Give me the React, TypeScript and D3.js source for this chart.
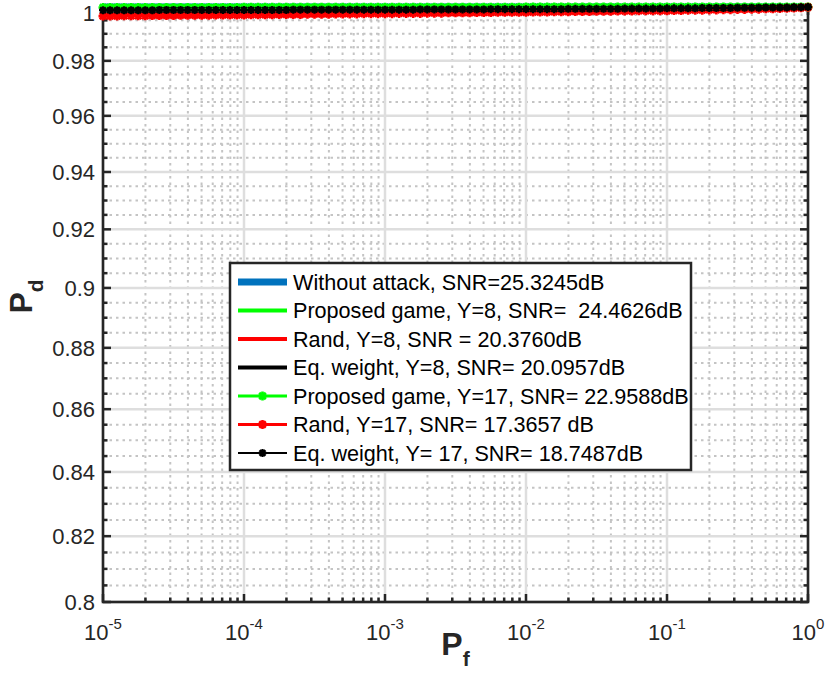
import React from "react";
import * as d3 from "d3";

// ---------- data ----------
// Pf sample exponents for the line-only curves (half decades)
const PF_LINE_EXP = [-5, -4.5, -4, -3.5, -3, -2.5, -2, -1.5, -1, -0.5, 0];
const PD_NO_ATTACK = [1, 1, 1, 1, 1, 1, 1, 1, 1, 1, 1];
const PD_GAME_Y8 = [0.9999, 0.9999, 0.9999, 0.9999, 0.99995, 0.99995, 1, 1, 1, 1, 1];
const PD_RAND_Y8 = [0.9971, 0.9973, 0.9975, 0.9977, 0.9979, 0.9981, 0.9983, 0.9986, 0.9989, 0.9993, 1];
const PD_EQ_Y8 = [0.999, 0.999, 0.9991, 0.9991, 0.9992, 0.9992, 0.9993, 0.9994, 0.9995, 0.9997, 1];

// Pf sample exponents for the marker curves (every 0.05 decade)
const PF_MARK_EXP = [
  -5, -4.95, -4.9, -4.85, -4.8, -4.75, -4.7, -4.65, -4.6, -4.55, -4.5, -4.45, -4.4, -4.35, -4.3, -4.25, -4.2, -4.15, -4.1, -4.05,
  -4, -3.95, -3.9, -3.85, -3.8, -3.75, -3.7, -3.65, -3.6, -3.55, -3.5, -3.45, -3.4, -3.35, -3.3, -3.25, -3.2, -3.15, -3.1, -3.05,
  -3, -2.95, -2.9, -2.85, -2.8, -2.75, -2.7, -2.65, -2.6, -2.55, -2.5, -2.45, -2.4, -2.35, -2.3, -2.25, -2.2, -2.15, -2.1, -2.05,
  -2, -1.95, -1.9, -1.85, -1.8, -1.75, -1.7, -1.65, -1.6, -1.55, -1.5, -1.45, -1.4, -1.35, -1.3, -1.25, -1.2, -1.15, -1.1, -1.05,
  -1, -0.95, -0.9, -0.85, -0.8, -0.75, -0.7, -0.65, -0.6, -0.55, -0.5, -0.45, -0.4, -0.35, -0.3, -0.25, -0.2, -0.15, -0.1, -0.05,
  0,
];
// miss probability (1 - Pd) in units of 1e-4
const MISS_GAME_Y17 = [
  2, 2, 2, 2, 2, 2, 2, 2, 2, 2, 2, 2, 2, 2, 2, 2, 2, 2, 2, 2,
  1, 1, 1, 1, 1, 1, 1, 1, 1, 1, 1, 1, 1, 1, 1, 1, 1, 1, 1, 1,
  1, 1, 1, 1, 1, 1, 1, 1, 1, 1, 1, 1, 1, 1, 1, 1, 1, 1, 1, 1,
  0, 0, 0, 0, 0, 0, 0, 0, 0, 0, 0, 0, 0, 0, 0, 0, 0, 0, 0, 0,
  0, 0, 0, 0, 0, 0, 0, 0, 0, 0, 0, 0, 0, 0, 0, 0, 0, 0, 0, 0,
  0,
];
const MISS_RAND_Y17 = [
  34, 34, 34, 33, 33, 33, 33, 32, 32, 32, 32, 31, 31, 31, 31, 31, 30, 30, 30, 30,
  30, 29, 29, 29, 29, 28, 28, 28, 28, 27, 27, 27, 27, 26, 26, 26, 26, 25, 25, 25,
  25, 25, 24, 24, 24, 24, 23, 23, 23, 22, 22, 22, 22, 21, 21, 21, 20, 20, 20, 20,
  20, 19, 19, 19, 18, 18, 18, 17, 17, 17, 16, 16, 16, 15, 15, 15, 14, 14, 14, 14,
  14, 13, 13, 12, 12, 12, 11, 11, 10, 10, 9, 9, 8, 8, 7, 7, 6, 5, 4, 3,
  1,
];
const MISS_EQ_Y17 = [
  12, 12, 12, 12, 12, 12, 12, 12, 11, 11, 11, 11, 11, 11, 11, 11, 11, 11, 11, 11,
  11, 11, 11, 11, 11, 11, 11, 10, 10, 10, 10, 10, 10, 10, 10, 10, 10, 10, 10, 10,
  10, 10, 10, 10, 10, 9, 9, 9, 9, 9, 9, 9, 9, 9, 9, 8, 8, 8, 8, 8,
  8, 8, 8, 8, 8, 8, 7, 7, 7, 7, 7, 7, 7, 7, 6, 6, 6, 6, 6, 6,
  5, 5, 5, 5, 5, 4, 4, 4, 4, 4, 3, 3, 3, 3, 2, 2, 2, 2, 1, 1,
  0,
];

const LEGEND_LABELS = [
  "Without attack, SNR=25.3245dB",
  "Proposed game, Y=8, SNR=  24.4626dB",
  "Rand, Y=8, SNR = 20.3760dB",
  "Eq. weight, Y=8, SNR= 20.0957dB",
  "Proposed game, Y=17, SNR= 22.9588dB",
  "Rand, Y=17, SNR= 17.3657 dB",
  "Eq. weight, Y= 17, SNR= 18.7487dB",
];

const Y_MAJOR = [0.8, 0.82, 0.84, 0.86, 0.88, 0.9, 0.92, 0.94, 0.96, 0.98, 1];
const Y_LABELS = ["0.8", "0.82", "0.84", "0.86", "0.88", "0.9", "0.92", "0.94", "0.96", "0.98", "1"];
const X_DECADES = [-5, -4, -3, -2, -1, 0];

// ---------- layout ----------
const W = 830;
const H = 673;
const L = 103;
const R = 808;
const T = 7;
const B = 602;
const AX = "#262626";
const FONT = "'Liberation Sans', Arial, Helvetica, sans-serif";

type Series = {
  xs: number[];
  ys: number[];
  color: string;
  width: number;
  marker: boolean;
  mWidth?: number;
  mSize?: number;
};

function asterisk(cx: number, cy: number, r: number) {
  const d = r * 0.72;
  return `M${cx - r},${cy}H${cx + r}M${cx},${cy - r}V${cy + r}M${cx - d},${cy - d}L${cx + d},${cy + d}M${cx - d},${cy + d}L${cx + d},${cy - d}`;
}

export default function App() {
  const x = d3.scaleLog().domain([1e-5, 1]).range([L, R]);
  const y = d3.scaleLog().domain([0.8, 1]).range([B, T]);

  const lineX = PF_LINE_EXP.map((e) => Math.pow(10, e));
  const markX = PF_MARK_EXP.map((e) => Math.pow(10, e));
  const toPd = (m: number[]) => m.map((v) => 1 - v / 1e4);

  const series: Series[] = [
    { xs: lineX, ys: PD_NO_ATTACK, color: "#0072bd", width: 7, marker: false },
    { xs: lineX, ys: PD_GAME_Y8, color: "#00ff00", width: 4, marker: false },
    { xs: lineX, ys: PD_RAND_Y8, color: "#ff0000", width: 4, marker: false },
    { xs: lineX, ys: PD_EQ_Y8, color: "#000000", width: 4, marker: false },
    { xs: markX, ys: toPd(MISS_GAME_Y17), color: "#00ff00", width: 3, marker: true, mWidth: 2.6, mSize: 4.5 },
    { xs: markX, ys: toPd(MISS_RAND_Y17), color: "#ff0000", width: 3, marker: true, mWidth: 2.6, mSize: 4.5 },
    { xs: markX, ys: toPd(MISS_EQ_Y17), color: "#000000", width: 2, marker: true, mWidth: 2.3, mSize: 4 },
  ];

  const line = d3
    .line<[number, number]>()
    .x((d) => x(d[0]))
    .y((d) => y(d[1]));

  // grids / ticks
  const xMinor: number[] = [];
  for (let e = -5; e < 0; e++) for (let k = 2; k <= 9; k++) xMinor.push(k * Math.pow(10, e));
  const yMinor: number[] = [];
  for (let i = 0; i < Y_MAJOR.length - 1; i++)
    for (let k = 1; k <= 3; k++) yMinor.push(+(Y_MAJOR[i] + k * 0.005).toFixed(3));

  const majorGrid = "#dedede";
  const minorGrid = "#c4c4c4";

  const legX = 230;
  const legY = 263;
  const legW = 461;
  const legH = 207;
  const rowY0 = 282;
  const rowH = 28.5;

  return (
    <svg
      width={W}
      height={H}
      viewBox={`0 0 ${W} ${H}`}
      style={{ position: "absolute", left: 0, top: 0, background: "#fff" }}
      fontFamily={FONT}
    >
      <rect x={0} y={0} width={W} height={H} fill="#fff" />
      {/* minor grid */}
      {xMinor.map((v, i) => (
        <line key={"xm" + i} x1={x(v)} x2={x(v)} y1={T} y2={B} stroke={minorGrid} strokeWidth={2} strokeDasharray="2.5 4" />
      ))}
      {yMinor.map((v, i) => (
        <line key={"ym" + i} x1={L} x2={R} y1={y(v)} y2={y(v)} stroke={minorGrid} strokeWidth={2} strokeDasharray="2.5 4" />
      ))}
      {/* major grid */}
      {X_DECADES.map((e, i) => (
        <line key={"xg" + i} x1={x(Math.pow(10, e))} x2={x(Math.pow(10, e))} y1={T} y2={B} stroke={majorGrid} strokeWidth={2.5} />
      ))}
      {Y_MAJOR.map((v, i) => (
        <line key={"yg" + i} x1={L} x2={R} y1={y(v)} y2={y(v)} stroke={majorGrid} strokeWidth={2.5} />
      ))}

      {/* axes box */}
      <rect x={L} y={T} width={R - L} height={B - T} fill="none" stroke={AX} strokeWidth={2.6} />
      {/* x ticks */}
      {X_DECADES.map((e, i) => {
        const px = x(Math.pow(10, e));
        return (
          <g key={"xt" + i}>
            <line x1={px} x2={px} y1={B} y2={B - 8} stroke={AX} strokeWidth={2.5} />
            <line x1={px} x2={px} y1={T} y2={T + 8} stroke={AX} strokeWidth={2.5} />
          </g>
        );
      })}
      {xMinor.map((v, i) => {
        const px = x(v);
        return (
          <g key={"xmt" + i}>
            <line x1={px} x2={px} y1={B} y2={B - 4.5} stroke={AX} strokeWidth={2.5} />
            <line x1={px} x2={px} y1={T} y2={T + 4.5} stroke={AX} strokeWidth={2.5} />
          </g>
        );
      })}
      {/* y ticks */}
      {Y_MAJOR.map((v, i) => {
        const py = y(v);
        return (
          <g key={"yt" + i}>
            <line x1={L} x2={L + 8} y1={py} y2={py} stroke={AX} strokeWidth={2.5} />
            <line x1={R} x2={R - 8} y1={py} y2={py} stroke={AX} strokeWidth={2.5} />
          </g>
        );
      })}
      {yMinor.map((v, i) => {
        const py = y(v);
        return (
          <g key={"ymt" + i}>
            <line x1={L} x2={L + 4.5} y1={py} y2={py} stroke={AX} strokeWidth={2.5} />
            <line x1={R} x2={R - 4.5} y1={py} y2={py} stroke={AX} strokeWidth={2.5} />
          </g>
        );
      })}

      {/* tick labels */}
      {Y_MAJOR.map((v, i) => (
        <text key={"yl" + i} x={95} y={Math.max(y(v), 13)} dy="0.36em" textAnchor="end" fontSize={22} fill={AX}>
          {Y_LABELS[i]}
        </text>
      ))}
      {X_DECADES.map((e, i) => (
        <text key={"xl" + i} x={x(Math.pow(10, e))} y={640} textAnchor="middle" fontSize={22} fill={AX}>
          10
          <tspan fontSize={15} dy={-11}>
            {String(e)}
          </tspan>
        </text>
      ))}

      {/* axis labels */}
      <text x={(L + R) / 2} y={655} textAnchor="middle" fontSize={32} fontWeight="bold" fill={AX}>
        P
        <tspan fontSize={21} dy={11}>
          f
        </tspan>
      </text>
      <text
        transform={`translate(32,${(T + B) / 2 - 8}) rotate(-90)`}
        textAnchor="middle"
        fontSize={32}
        fontWeight="bold"
        fill={AX}
      >
        P
        <tspan fontSize={21} dy={11}>
          d
        </tspan>
      </text>

      {/* data */}
      {series.map((s, i) => {
        const pts = s.xs.map((v, j) => [v, s.ys[j]] as [number, number]);
        return (
          <g key={"s" + i}>
            <path d={line(pts) || ""} fill="none" stroke={s.color} strokeWidth={s.width} strokeLinejoin="round" />
            {s.marker && (
              <path
                d={pts.map((p) => asterisk(x(p[0]), y(p[1]), s.mSize || 4)).join("")}
                fill="none"
                stroke={s.color}
                strokeWidth={s.mWidth}
              />
            )}
          </g>
        );
      })}

      {/* legend */}
      <rect x={legX} y={legY} width={legW} height={legH} fill="#fff" stroke={AX} strokeWidth={2.5} />
      {series.map((s, i) => {
        const ry = rowY0 + i * rowH;
        return (
          <g key={"lg" + i}>
            <line x1={238} x2={287} y1={ry} y2={ry} stroke={s.color} strokeWidth={s.width} />
            {s.marker && (
              <path d={asterisk(262.5, ry, s.mSize || 4)} fill="none" stroke={s.color} strokeWidth={s.mWidth} />
            )}
            <text x={293} y={ry} dy="0.36em" fontSize={21.6} fill="#000" style={{ whiteSpace: "pre" }}>
              {LEGEND_LABELS[i]}
            </text>
          </g>
        );
      })}
    </svg>
  );
}
